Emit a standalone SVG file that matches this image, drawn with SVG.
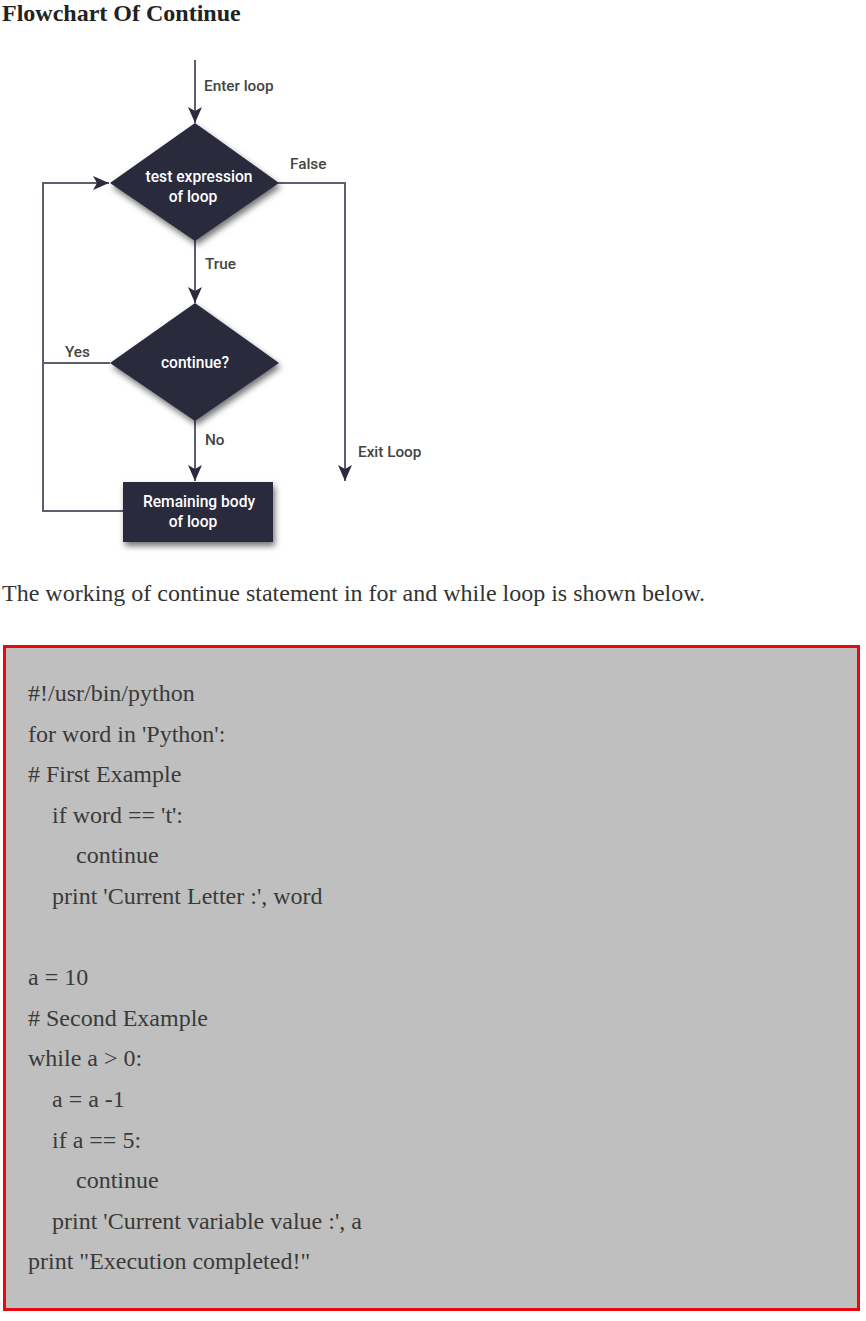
<svg xmlns="http://www.w3.org/2000/svg" width="866" height="1321" viewBox="0 0 866 1321">
<style>
.title{font-family:"Liberation Serif",serif;font-weight:bold;font-size:24px;fill:#222}
.para{font-family:"Liberation Serif",serif;font-size:24px;fill:#333}
.code{font-family:"Liberation Serif",serif;font-size:24px;fill:#3a3a3a}
.lbl{font-family:Roboto,"Liberation Sans",sans-serif;font-size:15.3px;font-weight:500;fill:#444}
.in{font-family:Roboto,"Liberation Sans",sans-serif;font-size:15.6px;font-weight:500;fill:#fff;text-anchor:middle}
.shape{fill:#2b2a3e;filter:url(#sh)}
.conn{fill:none;stroke:#5d606c;stroke-width:2}
</style>
<defs>
<filter id="sh" x="-20%" y="-20%" width="140%" height="150%">
<feDropShadow dx="2" dy="4" stdDeviation="3" flood-color="#000" flood-opacity="0.55"/>
</filter>
<marker id="ah" viewBox="0 0 16 14" refX="16" refY="7" markerWidth="16" markerHeight="14" markerUnits="userSpaceOnUse" orient="auto">
<path d="M0,0 L16,7 L0,14 L4,7 z" fill="#2b2a3e"/>
</marker>
</defs>
<rect width="866" height="1321" fill="#fff"/>
<text class="title" x="2" y="21">Flowchart Of Continue</text>

<g id="connectors">
<path class="conn" d="M195,60 V123" marker-end="url(#ah)"/>
<path class="conn" d="M278,183 H345 V481" marker-end="url(#ah)"/>
<path class="conn" d="M195,240 V303" marker-end="url(#ah)"/>
<path class="conn" d="M195,420 V481" marker-end="url(#ah)"/>
<path class="conn" d="M123,511 H43 V183 H109" marker-end="url(#ah)"/>
<path class="conn" d="M110,363 H43"/>
<text class="lbl" x="204" y="91">Enter loop</text>
<text class="lbl" x="290" y="169">False</text>
<text class="lbl" x="205" y="269">True</text>
<text class="lbl" x="65" y="357">Yes</text>
<text class="lbl" x="205" y="445">No</text>
<text class="lbl" x="358" y="457">Exit Loop</text>
</g>

<g id="test">
<polygon class="shape" points="195,123 279,183 195,241 110,183"/>
<text class="in" x="199" y="182">test expression</text>
<text class="in" x="193" y="202">of loop</text>
</g>
<g id="cont">
<polygon class="shape" points="195,303 279,363 195,421 110,363"/>
<text class="in" x="195" y="368">continue?</text>
</g>
<g id="body">
<rect class="shape" x="123" y="482" width="150" height="60"/>
<text class="in" x="199" y="507">Remaining body</text>
<text class="in" x="193" y="527">of loop</text>
</g>

<text class="para" x="2" y="601">The working of continue statement in for and while loop is shown below.</text>

<g id="codebox">
<rect x="4.5" y="646.5" width="854" height="663" fill="#bfbfbf" stroke="#e8080e" stroke-width="3"/>
<text class="code" x="28" y="701">#!/usr/bin/python</text>
<text class="code" x="28" y="741.6">for word in 'Python':</text>
<text class="code" x="28" y="782.2"># First Example</text>
<text class="code" x="52" y="822.8">if word == 't':</text>
<text class="code" x="76" y="863.4">continue</text>
<text class="code" x="52" y="904">print 'Current Letter :', word</text>
<text class="code" x="28" y="985.2">a = 10</text>
<text class="code" x="28" y="1025.8"># Second Example</text>
<text class="code" x="28" y="1066.4">while a &gt; 0:</text>
<text class="code" x="52" y="1107">a = a -1</text>
<text class="code" x="52" y="1147.6">if a == 5:</text>
<text class="code" x="76" y="1188.2">continue</text>
<text class="code" x="52" y="1228.8">print 'Current variable value :', a</text>
<text class="code" x="28" y="1269.4">print "Execution completed!"</text>
</g>
</svg>
